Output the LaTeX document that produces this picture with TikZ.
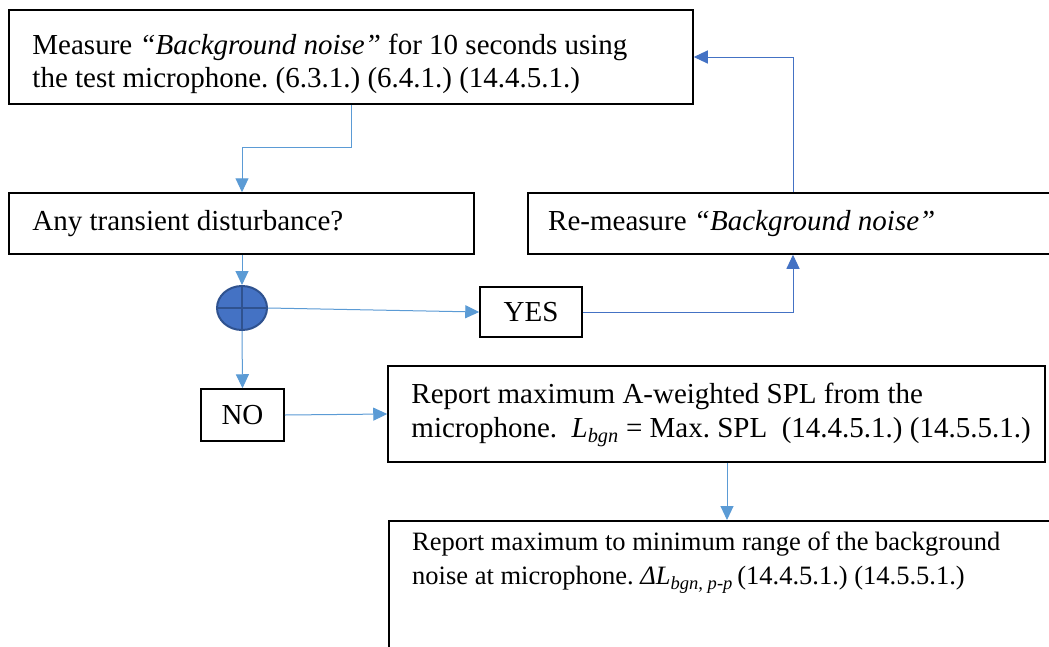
\documentclass[tikz,border=0pt]{standalone}
\usepackage{fontspec}
\setmainfont{Liberation Serif}
\usetikzlibrary{arrows.meta,shapes.geometric}
\definecolor{lineblue}{HTML}{5B9BD5}
\definecolor{darkblue}{HTML}{4472C4}
\definecolor{rimblue}{HTML}{2F528F}
\tikzset{
  frame/.style={draw=black, line width=1.5pt, inner sep=0pt},
  txt/.style={anchor=west, align=left, inner xsep=24pt, inner ysep=0pt,
    font=\fontsize{29}{33.4}\selectfont\frenchspacing},
  smallbox/.style={draw=black, line width=1.5pt, align=center, inner sep=0pt,
    font=\fontsize{29}{33.4}\selectfont},
  conn/.style={draw=lineblue, line width=1pt, -{Triangle[length=14pt,width=13pt]}},
  conndark/.style={draw=darkblue, line width=1pt, -{Triangle[length=14pt,width=13pt]}},
}
\begin{document}
\begin{tikzpicture}[x=1pt,y=1pt]
\useasboundingbox (0,0) rectangle (1049,-646);
\clip (0,0) rectangle (1049,-646);
\fill[white] (0,0) rectangle (1049,-646);

% boxes
\node[frame, minimum width=684pt, minimum height=94pt] (b1) at (351,-57) {};
\node[txt] (b1t) at (b1.west |- 0,-64)
  {Measure \textit{“Background noise”} for 10 seconds using\\the test microphone. (6.3.1.) (6.4.1.) (14.4.5.1.)};
\node[frame, minimum width=465pt, minimum height=61pt] (b2) at (241.5,-223.5) {};
\node[txt] (b2t) at (b2.west) {Any transient disturbance?};
\node[frame, minimum width=540pt, minimum height=61pt, anchor=west] (b3) at (527,-223.5) {};
\node[txt, inner xsep=21pt] (b3t) at (b3.west) {Re-measure \textit{“Background noise”}};
\node[smallbox, minimum width=102pt, minimum height=50pt] (yes) at (531,-312) {YES};
\node[smallbox, minimum width=83pt, minimum height=52pt] (no) at (242.5,-415) {NO};
\node[frame, minimum width=657pt, minimum height=96pt] (b4) at (716.5,-414) {};
\node[txt] (b4t) at (b4.west |- 0,-415)
  {Report maximum A-weighted SPL from the\\microphone.\ \ \textit{L}\textsubscript{\textit{bgn}} = Max. SPL\ \ (14.4.5.1.) (14.5.5.1.)};
\node[frame, minimum width=700pt, minimum height=200pt, anchor=north west] (b5) at (388,-520) {};
\node[anchor=north west, align=left, inner xsep=24pt, inner ysep=12pt,
  font=\fontsize{26.5}{34}\selectfont\frenchspacing] (b5t) at (b5.north west)
  {Report maximum to minimum range of the background\\noise at microphone. \textit{ΔL}\textsubscript{\textit{bgn, p-p}}\,(14.4.5.1.) (14.5.5.1.)};

% decision circle
\node[ellipse, draw=rimblue, fill=darkblue, line width=2pt, minimum width=50pt, minimum height=44pt, inner sep=0pt] (c) at (242,-308) {};
\draw[rimblue, line width=2pt] (c.north) -- (c.south) (c.west) -- (c.east);

\coordinate (k) at (793,-100);
\coordinate (k2) at (727,-480);

% connectors
\draw[conn] (b1.south) -- ++(0,-43) -| (c |- b2.north);
\draw[conn] (c |- b2.south) -- (c.north);
\draw[conn] (c.east) -- (yes.west);
\draw[conndark] (yes.east) -| (k |- b3.south);
\draw[conndark] (k |- b3.north) |- (b1.east);
\draw[conn] (c.south) -- (no.north);
\draw[conn] (no.east) -- (b4.west);
\draw[conn] (k2 |- b4.south) -- (k2 |- b5.north);
\end{tikzpicture}
\end{document}
